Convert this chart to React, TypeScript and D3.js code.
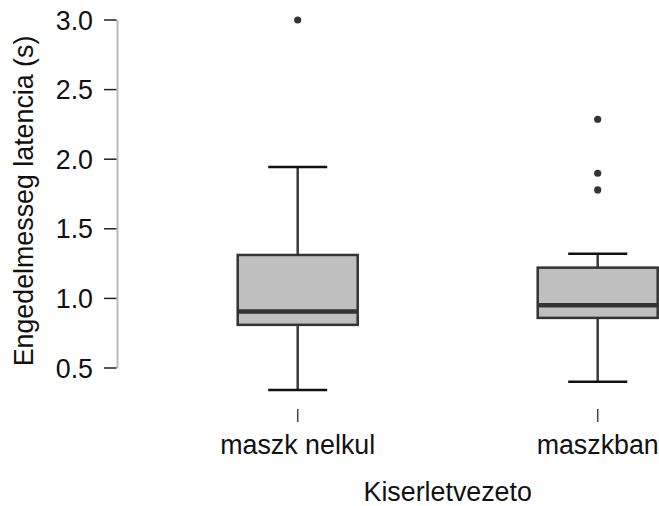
import React from 'react';
import * as d3 from 'd3';

const categories = ['maszk nelkul', 'maszkban'];
const q1 = [0.81, 0.86];
const medians = [0.905, 0.95];
const q3 = [1.312, 1.221];
const whiskerLow = [0.342, 0.402];
const whiskerHigh = [1.944, 1.321];
const outliers = [[3.0], [2.287, 1.899, 1.779]];
const yTicks = [0.5, 1.0, 1.5, 2.0, 2.5, 3.0];

const W = 659;
const H = 506;
const font = '"Liberation Sans", Arial, sans-serif';
const fs = 26.8;

export default function App() {
  const y = d3.scaleLinear().domain([0.5, 3.0]).range([368, 20]);
  const x = d3.scalePoint().domain(categories).range([297.7, 597.7]);
  const boxW = 120;
  const capW = 59;
  const axisX = 117.5;

  return (
    <svg width={W} height={H} style={{ position: 'absolute', left: 0, top: 0 }}>
      <rect width={W} height={H} fill="#fff" />
      {/* y axis */}
      <line x1={axisX} x2={axisX} y1={y(0.5)} y2={y(3.0)} stroke="#bbb" strokeWidth={2} />
      {yTicks.map((t) => (
        <g key={t}>
          <line x1={104} x2={axisX - 1} y1={y(t)} y2={y(t)} stroke="#222" strokeWidth={1.5} />
          <text x={93} y={y(t)} dy="0.36em" textAnchor="end" fontFamily={font} fontSize={fs} fill="#111">
            {d3.format('.1f')(t)}
          </text>
        </g>
      ))}
      <text
        transform={`translate(33,201) rotate(-90)`}
        textAnchor="middle"
        fontFamily={font}
        fontSize={fs}
        fill="#111"
      >
        Engedelmesseg latencia (s)
      </text>

      {/* boxes */}
      {categories.map((c, i) => {
        const cx = x(c) as number;
        return (
          <g key={c}>
            <line x1={cx} x2={cx} y1={y(whiskerHigh[i])} y2={y(q3[i])} stroke="#3a3a3a" strokeWidth={2.5} />
            <line x1={cx} x2={cx} y1={y(q1[i])} y2={y(whiskerLow[i])} stroke="#3a3a3a" strokeWidth={2.5} />
            <line x1={cx - capW / 2} x2={cx + capW / 2} y1={y(whiskerHigh[i])} y2={y(whiskerHigh[i])} stroke="#111" strokeWidth={2.5} />
            <line x1={cx - capW / 2} x2={cx + capW / 2} y1={y(whiskerLow[i])} y2={y(whiskerLow[i])} stroke="#111" strokeWidth={2.5} />
            <rect
              x={cx - boxW / 2}
              y={y(q3[i])}
              width={boxW}
              height={y(q1[i]) - y(q3[i])}
              fill="#bfbfbf"
              stroke="#333"
              strokeWidth={2.5}
            />
            <line x1={cx - boxW / 2} x2={cx + boxW / 2} y1={y(medians[i])} y2={y(medians[i])} stroke="#333" strokeWidth={4.5} />
            {outliers[i].map((o, j) => (
              <circle key={j} cx={cx} cy={y(o)} r={3.6} fill="#333" />
            ))}
            <line x1={cx} x2={cx} y1={409} y2={422} stroke="#444" strokeWidth={1.5} />
            <text x={cx} y={454} textAnchor="middle" fontFamily={font} fontSize={fs} fill="#111">
              {c}
            </text>
          </g>
        );
      })}
      <text x={447.7} y={501} textAnchor="middle" fontFamily={font} fontSize={fs} fill="#111">
        Kiserletvezeto
      </text>
    </svg>
  );
}
